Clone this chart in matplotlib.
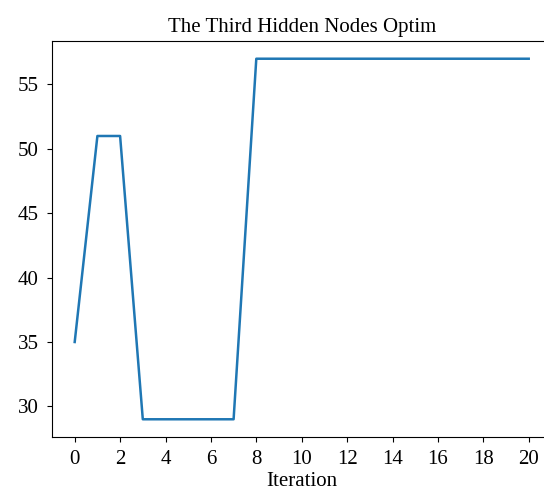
import matplotlib
matplotlib.use('Agg')
from matplotlib import pyplot as plt
import numpy as np

plt.rcParams['font.family'] = ['Liberation Serif', 'DejaVu Serif']

# data
iterations = list(range(21))
hidden_nodes = [35, 51, 51, 29, 29, 29, 29, 29, 57, 57, 57, 57, 57, 57, 57, 57, 57, 57, 57, 57, 57]

fig = plt.figure(figsize=(5.44, 4.91), dpi=100)
# axes runs a bit past the right edge, as in the reference
ax = fig.add_axes([52 / 544, 1 - 437.3 / 491, 499.4 / 544, 396.6 / 491])
ax.plot(iterations, hidden_nodes, color='#1f77b4', linewidth=1.8)
ax.set_xticks(np.arange(0, 21, 2))
ax.tick_params(labelsize=15, pad=6)
ax.set_xlabel('Iteration', fontsize=15, labelpad=2)
ax.set_title('The Third Hidden Nodes Optim', fontsize=15, pad=6)

fig.savefig('out.png', dpi=100)
